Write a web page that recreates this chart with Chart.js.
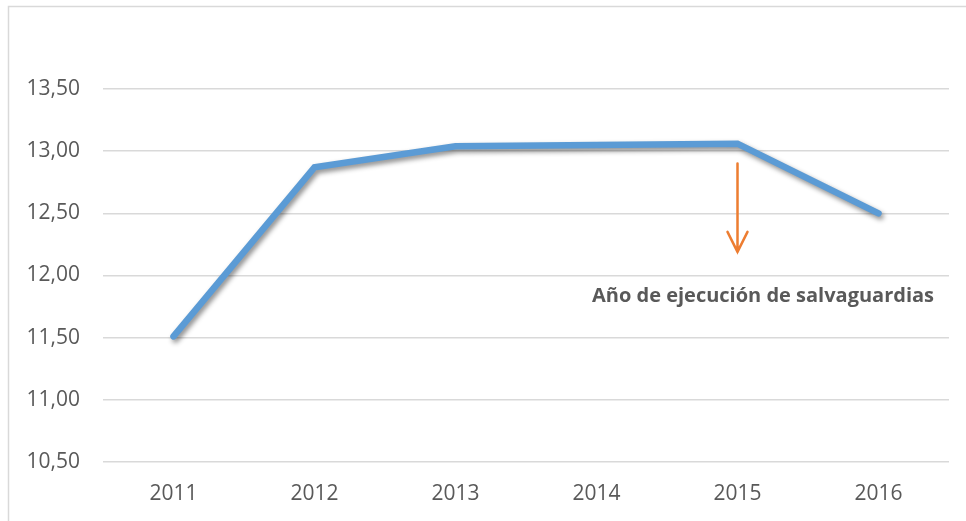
<!DOCTYPE html>
<html lang="es">
<head>
<meta charset="UTF-8">
<title>Evolución 2011-2016</title>
<script src="https://cdn.jsdelivr.net/npm/chart.js"></script>
<style>
  html, body { margin: 0; padding: 0; background: #fff; }
  #wrap { width: 966px; height: 521px; position: relative; }
</style>
</head>
<body>
<div id="wrap"><canvas id="grafico"></canvas></div>

<script>
const anios = ['2011', '2012', '2013', '2014', '2015', '2016'];
const valores = [11.51, 12.87, 13.04, 13.05, 13.06, 12.50];

// nota con flecha sobre el año 2015
const notaTexto = 'Año de ejecución de salvaguardias';
const notaAnio = '2015';
const flechaDesde = 12.90;
const flechaHasta = 12.19;
const notaValor = 11.83;

const ctx = document.getElementById('grafico');

// marco gris alrededor del gráfico
const marco = {
  id: 'marco',
  beforeDraw(chart) {
    const c = chart.ctx;
    c.save();
    c.fillStyle = '#fff';
    c.fillRect(0, 0, chart.width, chart.height);
    c.strokeStyle = '#d9d9d9';
    c.lineWidth = 1.5;
    c.strokeRect(8.5, 6.5, chart.width + 20, chart.height + 20);
    c.restore();
  }
};

// sombra de la línea
const sombra = {
  id: 'sombra',
  beforeDatasetDraw(chart) {
    const c = chart.ctx;
    c.save();
    c.shadowColor = 'rgba(0,0,0,0.45)';
    c.shadowBlur = 5;
    c.shadowOffsetX = 2;
    c.shadowOffsetY = 3;
  },
  afterDatasetDraw(chart) {
    chart.ctx.restore();
  }
};

const nota = {
  id: 'nota',
  afterDatasetsDraw(chart) {
    const c = chart.ctx;
    const x = chart.scales.x.getPixelForValue(anios.indexOf(notaAnio));
    const y1 = chart.scales.y.getPixelForValue(flechaDesde);
    const y2 = chart.scales.y.getPixelForValue(flechaHasta);
    c.save();
    c.strokeStyle = '#ed7d31';
    c.lineWidth = 2.5;
    c.lineCap = 'round';
    c.beginPath();
    c.moveTo(x, y1);
    c.lineTo(x, y2);
    c.moveTo(x - 10, y2 - 20);
    c.lineTo(x, y2);
    c.lineTo(x + 10, y2 - 20);
    c.stroke();

    c.fillStyle = '#595959';
    c.font = 'bold 20px "Open Sans"';
    c.textAlign = 'center';
    c.textBaseline = 'middle';
    c.fillText(notaTexto, 763, chart.scales.y.getPixelForValue(notaValor));
    c.restore();
  }
};

new Chart(ctx, {
  type: 'line',
  data: {
    labels: anios,
    datasets: [{
      data: valores,
      borderColor: '#5b9bd5',
      borderWidth: 6.5,
      borderCapStyle: 'round',
      borderJoinStyle: 'miter',
      pointRadius: 0,
      fill: false,
      tension: 0
    }]
  },
  options: {
    responsive: true,
    maintainAspectRatio: false,
    animation: false,
    layout: { padding: { top: 89, right: 17, left: 0, bottom: 0 } },
    plugins: {
      legend: { display: false },
      tooltip: { enabled: false }
    },
    scales: {
      x: {
        offset: true,
        grid: { display: false, drawTicks: false },
        border: { display: false },
        ticks: {
          color: '#595959',
          padding: 19,
          font: { family: 'Open Sans', size: 21 }
        },
        afterFit(scale) { scale.height = 59; }
      },
      y: {
        min: 10.5,
        max: 13.5,
        grid: { color: '#d9d9d9', lineWidth: 1.5, drawTicks: false },
        border: { display: false },
        ticks: {
          stepSize: 0.5,
          color: '#595959',
          padding: 23,
          font: { family: 'Open Sans', size: 21 },
          callback: v => v.toFixed(2).replace('.', ',')
        },
        afterFit(scale) { scale.width = 103; }
      }
    }
  },
  plugins: [marco, sombra, nota]
});
</script>
</body>
</html>
